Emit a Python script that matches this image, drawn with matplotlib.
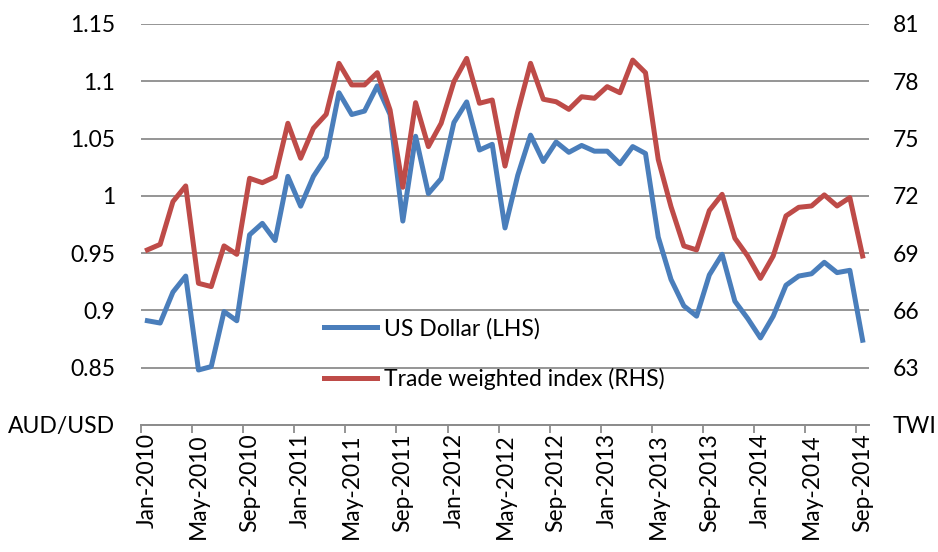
import matplotlib
matplotlib.use("Agg")
import matplotlib.pyplot as plt
import numpy as np

months = ["Jan", "Feb", "Mar", "Apr", "May", "Jun", "Jul", "Aug", "Sep", "Oct", "Nov", "Dec"]
dates = [f"{months[i % 12]}-{2010 + i // 12}" for i in range(57)]

usd = [0.891, 0.889, 0.916, 0.930, 0.848, 0.851, 0.899, 0.891, 0.966, 0.976,
       0.961, 1.017, 0.991, 1.017, 1.034, 1.090, 1.071, 1.074, 1.096, 1.071,
       0.978, 1.052, 1.002, 1.015, 1.064, 1.082, 1.040, 1.045, 0.972, 1.018,
       1.053, 1.030, 1.047, 1.038, 1.044, 1.039, 1.039, 1.028, 1.043, 1.037,
       0.964, 0.927, 0.904, 0.895, 0.931, 0.949, 0.908, 0.893, 0.876, 0.895,
       0.922, 0.930, 0.932, 0.942, 0.933, 0.935, 0.874]

twi = [69.17, 69.46, 71.70, 72.52, 67.42, 67.25, 69.38, 68.94, 72.92, 72.69,
       73.00, 75.80, 73.97, 75.54, 76.27, 78.94, 77.81, 77.81, 78.45, 76.50,
       72.45, 76.88, 74.58, 75.80, 77.98, 79.20, 76.85, 77.02, 73.56, 76.41,
       78.94, 77.06, 76.93, 76.53, 77.19, 77.11, 77.72, 77.40, 79.11, 78.45,
       73.90, 71.43, 69.38, 69.17, 71.23, 72.08, 69.78, 68.85, 67.68, 68.85,
       70.95, 71.40, 71.47, 72.05, 71.47, 71.91, 68.85]

left_ticks = [0.8, 0.85, 0.9, 0.95, 1.0, 1.05, 1.1, 1.15]
left_labels = ["AUD/USD", "0.85", "0.9", "0.95", "1", "1.05", "1.1", "1.15"]
right_ticks = [60, 63, 66, 69, 72, 75, 78, 81]
right_labels = ["TWI", "63", "66", "69", "72", "75", "78", "81"]

plt.rcParams['font.family'] = ['Lato', 'DejaVu Sans']
FS = 16.5
grid_c = "#8c8c8c"

fig = plt.figure(figsize=(9.38, 5.52), dpi=100)
ax = fig.add_axes([141/938, 1-425/552, (869-141)/938, (425-24)/552])
ax2 = ax.twinx()

x = np.arange(len(dates))
ax.plot(x, usd, color="#4A7EBB", lw=3.6, solid_joinstyle="round", label="US Dollar (LHS)")
ax2.plot(x, twi, color="#BE4B48", lw=3.6, solid_joinstyle="round", label="Trade weighted index (RHS)")

ax.set_xlim(-0.5, len(dates) - 0.5)
ax.set_ylim(0.8, 1.15)
ax2.set_ylim(60, 81)

ax.set_yticks(left_ticks)
ax.set_yticklabels(left_labels)
ax2.set_yticks(right_ticks)
ax2.set_yticklabels(right_labels)

ax.grid(axis="y", color=grid_c, lw=1.3)
ax.set_axisbelow(True)

ax.set_xticks(x[::4])
ax.set_xticklabels(dates[::4], rotation=90)
ax.set_xticks(np.arange(-0.5, len(dates) - 0.5, 4), minor=True)
ax.tick_params(axis="x", which="major", length=0, labelsize=FS, pad=6)
ax.tick_params(axis="x", which="minor", length=6, color=grid_c, width=1.3)
ax.tick_params(axis="y", length=0, labelsize=FS, pad=18.5)
ax2.tick_params(axis="y", length=0, labelsize=FS, pad=17)

for a in (ax, ax2):
    for s in ("top", "left", "right"):
        a.spines[s].set_visible(False)
    a.spines["bottom"].set_color(grid_c)
    a.spines["bottom"].set_linewidth(1.3)

h1, l1 = ax.get_legend_handles_labels()
h2, l2 = ax2.get_legend_handles_labels()
ax2.legend(h1 + h2, l1 + l2, loc="upper left", bbox_to_anchor=(324/938, 1 - 318/552),
           bbox_transform=fig.transFigure, frameon=False, fontsize=FS,
           handlelength=2.3, handletextpad=0.3, labelspacing=1.25,
           borderpad=0, borderaxespad=0)

fig.savefig("out.png", dpi=100)
